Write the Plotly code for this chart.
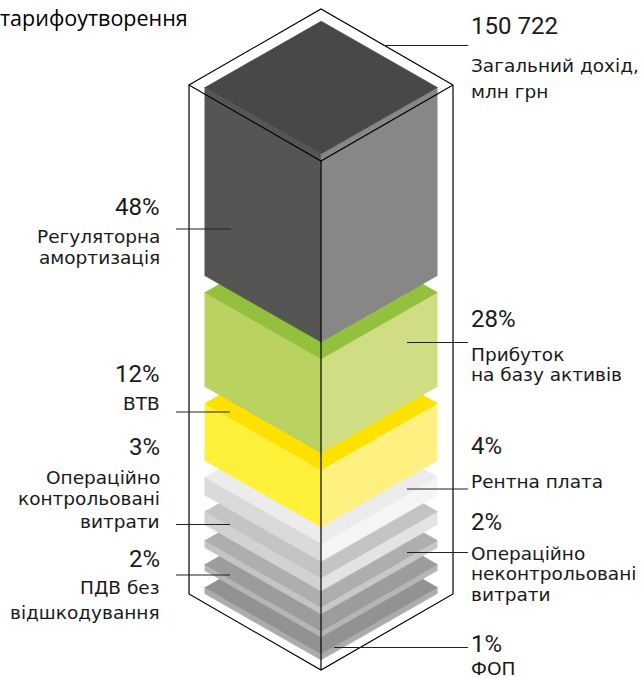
import plotly.graph_objects as go

# ---- data ----
layer_names = ["Регуляторна амортизація", "Прибуток на базу активів", "ВТВ", "Рентна плата",
               "Операційно контрольовані витрати", "Операційно неконтрольовані витрати",
               "ПДВ без відшкодування", "ФОП"]
layer_shares = [48, 28, 12, 4, 3, 2, 2, 1]
total_income = "150 722"

# ---- drawing layout (pixels) ----
W, H = 641, 679
CX, HALF_W, RISE = 321, 116.5, 66.5
layer_top_front = [154, 359, 470, 543.5, 578, 607, 631, 654]
layer_thickness = [188, 94, 57, 18, 13, 7, 6, 6]
top_colors = ["#484846", "#93c13d", "#ffe100", "#ececec", "#c4c4c4", "#aeaeae", "#9c9c9c", "#929292"]
left_colors = ["#555553", "#bad360", "#fff03a", "#dadada", "#d2d2d2", "#c4c4c4", "#b5b5b5", "#acacac"]
right_colors = ["#878787", "#d1dd82", "#fff17f", "#f5f5f5", "#e3e3e3", "#c8c8c8", "#b5b5b5", "#acacac"]

FRAME = dict(cx=321, half=132, rise=76, top_front=161, bottom_front=670)

leaders = [(383, 468, 45.5), (176, 231, 229), (407, 468, 342.5), (176, 230, 412), (407, 468, 489),
           (176, 230, 524.5), (407, 468, 552.5), (176, 230, 575), (334, 468, 647.5)]

big_right = [(total_income, 26), ("28%", 319), ("4%", 446), ("2%", 522), ("1%", 644)]
big_left = [("48%", 207), ("12%", 374), ("3%", 447), ("2%", 559)]
small_right = [("Загальний дохід,", 65), ("млн грн", 91), ("Прибуток", 354), ("на базу активів", 374),
               ("Рентна плата", 481), ("Операційно", 553), ("неконтрольовані", 573), ("витрати", 594),
               ("ФОП", 668)]
small_left = [("Регуляторна", 236), ("амортизація", 257), ("ВТВ", 403), ("Операційно", 477),
              ("контрольовані", 498), ("витрати", 521), ("ПДВ без", 587), ("відшкодування", 612)]
title_text = "тарифоутворення"

fig = go.Figure()


def poly(xs, ys, color, name, edge=None):
    fig.add_trace(go.Scatter(x=xs, y=ys, mode="lines", fill="toself", fillcolor=color,
                             line=dict(color=edge or color, width=0.5), name=name,
                             hoverinfo="name", showlegend=False))


# slabs from the bottom of the stack upward
for i in reversed(range(len(layer_names))):
    t, h = layer_top_front[i], layer_thickness[i]
    n = f"{layer_names[i]} {layer_shares[i]}%"
    poly([CX - HALF_W, CX, CX, CX - HALF_W], [t - RISE, t, t + h, t - RISE + h], left_colors[i], n)
    poly([CX + HALF_W, CX, CX, CX + HALF_W], [t - RISE, t, t + h, t - RISE + h], right_colors[i], n)
    poly([CX, CX + HALF_W, CX, CX - HALF_W], [t - 2 * RISE, t - RISE, t, t - RISE], top_colors[i], n)

# wire frame
c, a, r, tf, bf = FRAME["cx"], FRAME["half"], FRAME["rise"], FRAME["top_front"], FRAME["bottom_front"]
fx = [c - a, c, c + a, c, c - a, c - a, c, c + a, c + a, None, c, c]
fy = [tf - r, tf - 2 * r, tf - r, tf, tf - r, bf - r, bf, bf - r, tf - r, None, tf, bf]
fig.add_trace(go.Scatter(x=fx, y=fy, mode="lines", line=dict(color="#000000", width=1.2),
                         hoverinfo="skip", showlegend=False))

# leader lines
lx, ly = [], []
for x0, x1, y in leaders:
    lx += [x0, x1, None]
    ly += [y, y, None]
fig.add_trace(go.Scatter(x=lx, y=ly, mode="lines", line=dict(color="#222222", width=1.2),
                         hoverinfo="skip", showlegend=False))


def label(text, x, y, anchor, size, family, color="#1a1a1a"):
    fig.add_annotation(x=x, y=y, text=text, showarrow=False, xanchor=anchor, yanchor="middle",
                       borderpad=0, font=dict(family=family, size=size, color=color))


BIG = "Roboto, sans-serif"
SMALL = "DejaVu Sans, sans-serif"
for t, y in big_right:
    label(t, 470, y, "left", 24, BIG)
for t, y in big_left:
    label(t, 161, y, "right", 24, BIG)
for t, y in small_right:
    label(t, 470, y, "left", 18.5, SMALL)
for t, y in small_left:
    label(t, 161, y, "right", 18.5, SMALL)
label(title_text, 189, 17, "right", 21.5, "Open Sans, sans-serif", "#000000")

fig.update_layout(
    width=W, height=H, margin=dict(l=0, r=0, t=0, b=0),
    paper_bgcolor="white", plot_bgcolor="white", showlegend=False,
    xaxis=dict(range=[0, W], visible=False, fixedrange=True),
    yaxis=dict(range=[H, 0], visible=False, fixedrange=True),
)
fig.write_html("out.html", config={"displayModeBar": False},
               post_script="document.body.style.margin='0';document.body.style.overflow='hidden';")
